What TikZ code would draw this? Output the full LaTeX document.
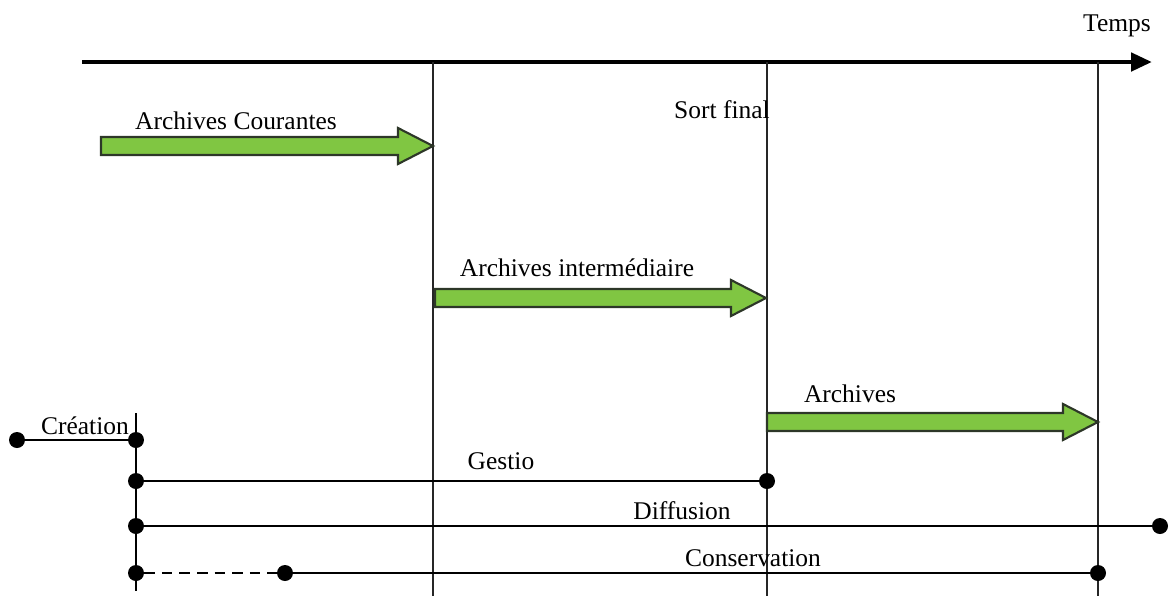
\documentclass[tikz,border=0pt]{standalone}
\usepackage{fontspec}
\setmainfont{Liberation Serif}
\usetikzlibrary{arrows.meta,calc}
\definecolor{archgreen}{RGB}{128,198,66}
\definecolor{archline}{RGB}{45,55,40}

\newcommand{\phasearrow}[2]{%
  \draw[fatarrow] ($(#1)+(0,-9)$) -- ($(#2)+(-35,-9)$) -- ($(#2)+(-35,-18)$)
    -- (#2) -- ($(#2)+(-35,18)$) -- ($(#2)+(-35,9)$) -- ($(#1)+(0,9)$) -- cycle;}

\begin{document}
\begin{tikzpicture}[
  x=0.02cm, y=-0.02cm,
  font=\fontsize{14.5}{16}\selectfont,
  timeline/.style={-{Triangle[length=4.2mm,width=3.6mm]}, line width=2.7pt},
  phase/.style={line width=1.1pt, draw=black!85},
  track/.style={line width=1.1pt},
  dot/.style={circle, fill=black, inner sep=0pt, minimum size=3.2mm},
  fatarrow/.style={draw=archline, fill=archgreen, line width=1.2pt, line join=miter}
]
\useasboundingbox (0,0) rectangle (1171,596);

% axe du temps
\coordinate (axstart) at (82,62);
\coordinate (axend) at (1152,62);
\draw[timeline] (axstart) -- (axend);
\node (temps) at (1117,26) {Temps};

% limites des phases
\coordinate (p1top) at (433,62);
\coordinate (p1bot) at (433,596);
\coordinate (p2top) at (767,62);
\coordinate (p2bot) at (767,596);
\coordinate (p3top) at (1098,62);
\coordinate (p3bot) at (1098,596);
\draw[phase] (p1top) -- (p1bot);
\draw[phase] (p2top) -- (p2bot);
\draw[phase] (p3top) -- (p3bot);

% fleches des ages
\coordinate (courS) at (101,146);
\coordinate (courE) at (433,146);
\coordinate (interS) at (435,298);
\coordinate (interE) at (766,298);
\coordinate (archS) at (767,422);
\coordinate (archE) at (1098,422);
\phasearrow{courS}{courE}
\phasearrow{interS}{interE}
\phasearrow{archS}{archE}
\node (courantes) at (236,121) {Archives Courantes};
\node (sortfinal) at (722,110) {Sort final};
\node (intermed) at (577,268) {Archives intermédiaire};
\node (archives) at (850,394) {Archives};

% cycle de vie
\coordinate (cretop) at (136,413);
\coordinate (crebot) at (136,591);
\draw[track] (cretop) -- (crebot);

\node[dot] (cre0) at (17,440) {};
\node[dot] (cre1) at (136,440) {};
\node[dot] (ges0) at (136,481) {};
\node[dot] (ges1) at (767,481) {};
\node[dot] (dif0) at (136,526) {};
\node[dot] (dif1) at (1160,526) {};
\node[dot] (con0) at (136,573) {};
\node[dot] (con1) at (285,573) {};
\node[dot] (con2) at (1098,573) {};

\draw[track] (cre0) -- (cre1);
\draw[track] (ges0) -- (ges1);
\draw[track] (dif0) -- (dif1);
\draw[track, dashed, dash pattern=on 6pt off 4pt] (con0) -- (con1);
\draw[track] (con1) -- (con2);

\node (creation) at (85,426) {Création};
\node (gestio) at (501,461) {Gestio};
\node (diffusion) at (682,511) {Diffusion};
\node (conservation) at (753,558) {Conservation};

\end{tikzpicture}
\end{document}
